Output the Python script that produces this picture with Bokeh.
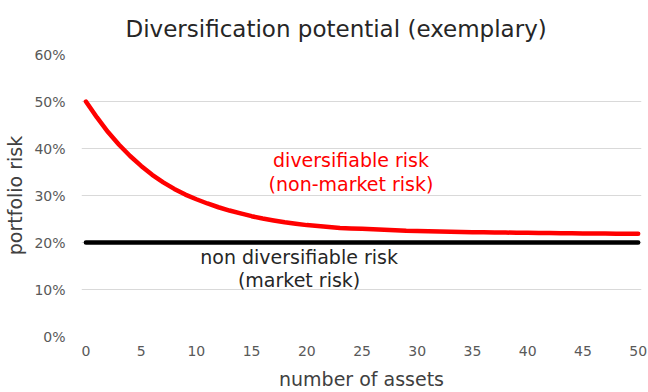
from bokeh.plotting import figure
from bokeh.models import Label, PrintfTickFormatter, FixedTicker, Range1d
from bokeh.embed import file_html
from bokeh.resources import INLINE

# Portfolio risk (%) by number of assets held
n_assets = list(range(0, 51))
total_risk = [
    50.0, 46.6, 43.5, 40.8, 38.4, 36.3, 34.4, 32.8, 31.4, 30.2,
    29.2, 28.3, 27.5, 26.8, 26.2, 25.6, 25.1, 24.7, 24.3, 24.0,
    23.7, 23.5, 23.3, 23.1, 23.0, 22.9, 22.8, 22.7, 22.6, 22.5,
    22.45, 22.4, 22.35, 22.3, 22.25, 22.2, 22.17, 22.14, 22.11, 22.08,
    22.05, 22.02, 22.0, 21.98, 21.96, 21.94, 21.92, 21.9, 21.88, 21.86,
    21.85,
]
market_risk = [20.0] * len(n_assets)

x_ticks = list(range(0, 51, 5))
y_ticks = list(range(0, 61, 10))

FONT = "DejaVu Sans"

p = figure(
    width=648, height=392,
    output_backend="svg", toolbar_location=None,
    x_range=Range1d(-0.4, 50.3), y_range=Range1d(0, 60),
    min_border_left=81, min_border_right=7,
    min_border_top=53, min_border_bottom=55,
    title="Diversification potential (exemplary)",
)
p.outline_line_color = None
p.background_fill_color = "white"
p.border_fill_color = "white"

p.title.text_font = FONT
p.title.text_font_size = "23px"
p.title.text_font_style = "normal"
p.title.text_color = "#262626"
p.title.align = "left"
p.title.offset = 44
p.title.standoff = 26

# grid
p.xgrid.visible = False
p.ygrid.ticker = FixedTicker(ticks=y_ticks)
p.ygrid.grid_line_color = "#d9d9d9"
p.ygrid.grid_line_width = 1

# axes
for ax in (p.xaxis[0], p.yaxis[0]):
    ax.axis_line_color = None
    ax.major_tick_line_color = None
    ax.minor_tick_line_color = None
    ax.major_tick_out = 0
    ax.major_tick_in = 0
    ax.major_label_text_font = FONT
    ax.major_label_text_font_size = "14px"
    ax.major_label_text_color = "#595959"
    ax.axis_label_text_font = FONT
    ax.axis_label_text_font_size = "19px"
    ax.axis_label_text_font_style = "normal"
    ax.axis_label_text_color = "#404040"

p.xaxis.ticker = FixedTicker(ticks=x_ticks)
p.yaxis.ticker = FixedTicker(ticks=y_ticks)
p.yaxis.formatter = PrintfTickFormatter(format="%d%%")
p.xaxis.axis_label = "number of assets"
p.yaxis.axis_label = "portfolio risk"
p.xaxis.major_label_standoff = 9
p.xaxis.axis_label_standoff = 9
p.yaxis.major_label_standoff = 16
p.yaxis.axis_label_standoff = 5

# curves
p.line(n_assets, market_risk, line_color="black", line_width=4.5, line_cap="round")
p.line(n_assets, total_risk, line_color="#ff0000", line_width=4.5, line_cap="round")

# annotations
def add_label(x, y, text, color):
    p.add_layout(Label(
        x=x, y=y, text=text, text_align="center", text_baseline="middle",
        text_font=FONT, text_font_size="19px", text_color=color,
    ))

add_label(24.0, 37.5, "diversifiable risk", "#ff0000")
add_label(24.0, 32.4, "(non-market risk)", "#ff0000")
add_label(19.3, 16.9, "non diversifiable risk", "#262626")
add_label(19.3, 12.1, "(market risk)", "#262626")

open("out.html", "w").write(file_html(p, INLINE))
